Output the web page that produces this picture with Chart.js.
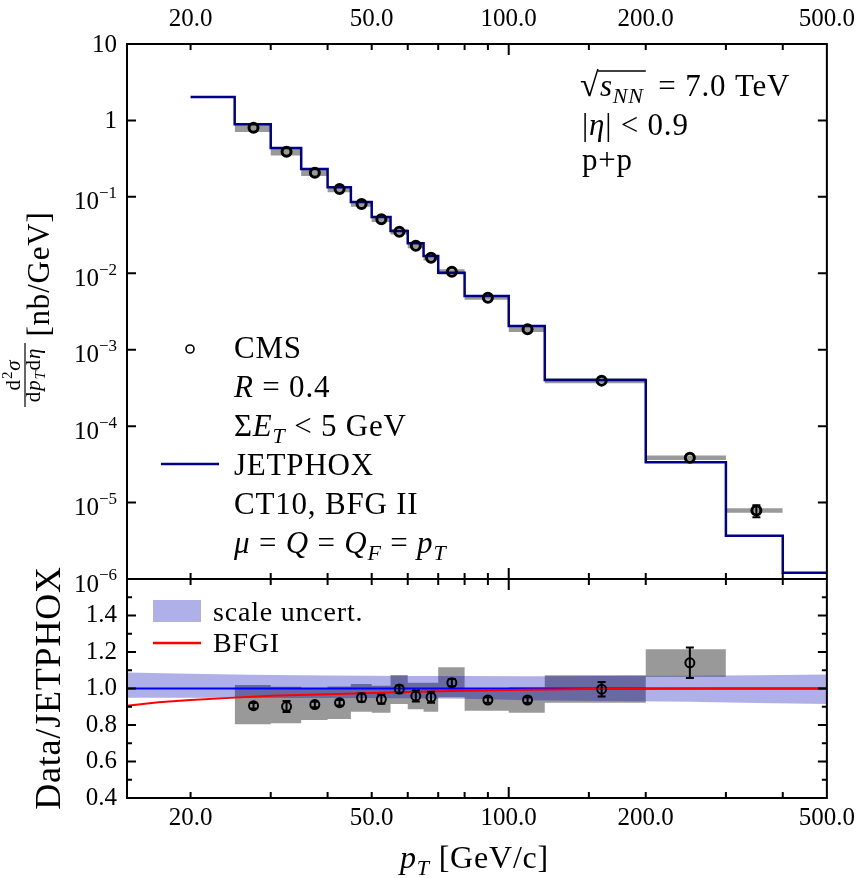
<!DOCTYPE html>
<html>
<head>
<meta charset="utf-8">
<script src="https://cdn.jsdelivr.net/npm/chart.js@4.4.1/dist/chart.umd.min.js"></script>
<style>
  html, body { margin: 0; padding: 0; background: #fff; }
  #wrap { position: relative; width: 865px; height: 878px; }
</style>
</head>
<body>
<div id="wrap"><canvas id="c" width="865" height="878"></canvas></div>
<script>
// ── Data ────────────────────────────────────────────────────────────────────
// JETPHOX histogram (bin edges + value per bin)
const jetEdges = [20, 25, 30, 35, 40, 45, 50, 55, 60, 65, 70, 80, 100, 120, 200, 300, 400, 500];
const jetVals  = [2.02, 0.89, 0.435, 0.231, 0.134, 0.0855, 0.0545, 0.0357, 0.0247, 0.0168, 0.0102,
                  0.00505, 0.00204, 0.000402, 3.37e-5, 3.69e-6, 1.21e-6];

// CMS data (bins 25..400)
const cmsEdges = [25, 30, 35, 40, 45, 50, 55, 60, 65, 70, 80, 100, 120, 200, 300, 400];
const cmsX     = [27.5, 32.5, 37.5, 42.5, 47.5, 52.5, 57.5, 62.5, 67.5, 75, 90, 110, 160, 250, 350];
const cmsY     = [0.80, 0.39, 0.207, 0.127, 0.0807, 0.0508, 0.035, 0.023, 0.016, 0.0105, 0.0048,
                  0.00185, 0.000394, 3.86e-5, 7.85e-6];
const cmsErr   = [0.01, 0.01, 0.003, 0.002, 0.0015, 0.001, 0.0007, 0.0006, 0.0004, 0.0002, 0.00007,
                  0.00003, 0.000016, 2.8e-6, 1.4e-6];
const cmsSysLo = [0.706, 0.347, 0.188, 0.115, 0.0742, 0.0468, 0.0322, 0.0213, 0.0147, 0.00967, 0.0045,
                  0.00171, 0.000364, 3.6e-5, 7.38e-6];
const cmsSysHi = [0.894, 0.433, 0.226, 0.139, 0.0872, 0.0548, 0.0378, 0.0247, 0.0173, 0.01133, 0.0051,
                  0.00199, 0.000424, 4.12e-5, 8.41e-6];

// Ratio panel (Data/JETPHOX), bins 25..300
const ratioEdges = [25, 30, 35, 40, 45, 50, 55, 60, 65, 70, 80, 100, 120, 200, 300];
const ratioX     = [27.5, 32.5, 37.5, 42.5, 47.5, 52.5, 57.5, 62.5, 67.5, 75, 90, 110, 160, 250];
const ratioY     = [0.906, 0.901, 0.912, 0.922, 0.950, 0.941, 0.997, 0.959, 0.952, 1.032, 0.937, 0.937, 0.996, 1.141];
const ratioErr   = [0.015, 0.03, 0.015, 0.015, 0.022, 0.025, 0.02, 0.03, 0.03, 0.02, 0.015, 0.015, 0.04, 0.083];
const ratioSysLo = [0.804, 0.809, 0.827, 0.833, 0.873, 0.867, 0.915, 0.886, 0.873, 0.952, 0.878, 0.867, 0.922, 1.065];
const ratioSysHi = [1.019, 1.010, 0.997, 1.011, 1.025, 1.015, 1.074, 1.032, 1.031, 1.116, 0.996, 1.007, 1.072, 1.215];

// scale uncertainty band
const bandX  = [14.5, 20, 27, 40, 60, 80, 110, 160, 250, 350, 500];
const bandLo = [0.950, 0.949, 0.948, 0.948, 0.947, 0.944, 0.935, 0.932, 0.927, 0.921, 0.915];
const bandHi = [1.087, 1.081, 1.076, 1.071, 1.069, 1.068, 1.067, 1.068, 1.070, 1.073, 1.077];

// BFGI / JETPHOX ratio
const bfgX = [14.5, 17, 20, 25, 30, 40, 50, 57, 75, 100, 150, 200, 300, 500];
const bfgY = [0.905, 0.925, 0.937, 0.950, 0.960, 0.969, 0.975, 0.979, 0.986, 0.992, 0.997, 0.999, 1.0, 1.0];

const unityX = [14.5, 500];
const unityY = [1.0, 1.0];

const xTickLabels = [20, 50, 100, 200, 500];
const X_MIN = 14.5, X_MAX = 500;

// ── Helpers ─────────────────────────────────────────────────────────────────
const SERIF = '"Liberation Serif", "DejaVu Serif", serif';
const font = (sz, it) => (it ? 'italic ' : '') + sz + 'px ' + SERIF;
const EQ = ' = ';

function steps(edges, vals) {
    const pts = vals.map((v, i) => ({ x: edges[i], y: v }));
    pts.push({ x: edges[edges.length - 1], y: vals[vals.length - 1] });
    return pts;
}
const pairs = (xs, ys) => xs.map((x, i) => ({ x, y: ys[i] }));

// draw text made of parts: r roman, i italic, sb italic subscript, sp superscript
function rich(ctx, x, y, parts, size, dry) {
    for (const [t, s] of parts) {
        let sz = size, dy = 0, it = s === 'i';
        if (s === 'sb') { sz = Math.round(size * 0.7); dy = size * 0.22; it = true; }
        if (s === 'sp') { sz = Math.round(size * 0.7); dy = -size * 0.4; }
        ctx.font = font(sz, it);
        if (!dry) ctx.fillText(t, x, y + dy);
        x += ctx.measureText(t).width;
    }
    return x;
}

const isDecade = v => Math.abs(Math.log10(v) - Math.round(Math.log10(v))) < 1e-6;

// ── Decorations: frame, ticks, labels, legends ──────────────────────────────
const decor = {
    id: 'decor',
    afterDatasetsDraw(chart) {
        const ctx = chart.ctx, xs = chart.scales.x;
        ctx.save();
        ctx.strokeStyle = '#000';
        ctx.lineWidth = 2;
        const bars = (ys, X, Y, E, always) => {
            X.forEach((xv, i) => {
                const px = xs.getPixelForValue(xv);
                const y0 = ys.getPixelForValue(Y[i] - E[i]);
                const y1 = ys.getPixelForValue(Y[i] + E[i]);
                if (!always && Math.abs(y0 - y1) < 10) return;
                ctx.beginPath();
                ctx.moveTo(px, y0); ctx.lineTo(px, y1);
                ctx.moveTo(px - 4, y0); ctx.lineTo(px + 4, y0);
                ctx.moveTo(px - 4, y1); ctx.lineTo(px + 4, y1);
                ctx.stroke();
            });
        };
        bars(chart.scales.y, cmsX, cmsY, cmsErr, false);
        bars(chart.scales.yr, ratioX, ratioY, ratioErr, true);
        ctx.restore();
    },
    afterDraw(chart) {
        const ctx = chart.ctx;
        const { x, y, yr } = chart.scales;
        const L = chart.chartArea.left, R = chart.chartArea.right;
        const T = y.top, M = y.bottom, B = yr.bottom;
        ctx.save();
        ctx.strokeStyle = '#000';
        ctx.fillStyle = '#000';
        ctx.lineWidth = 2;
        ctx.strokeRect(L, T, R - L, B - T);
        ctx.beginPath(); ctx.moveTo(L, M); ctx.lineTo(R, M); ctx.stroke();

        // x ticks
        ctx.beginPath();
        x.ticks.forEach(t => {
            const px = x.getPixelForValue(t.value);
            if (px < L + 2 || px > R - 2) return;
            const len = isDecade(t.value) ? 11 : 6;
            ctx.moveTo(px, T); ctx.lineTo(px, T + len);
            ctx.moveTo(px, M - len); ctx.lineTo(px, M + len);
            ctx.moveTo(px, B); ctx.lineTo(px, B - len);
        });
        // y ticks (decades)
        y.ticks.forEach(t => {
            if (!isDecade(t.value)) return;
            const py = y.getPixelForValue(t.value);
            if (py < T + 2 || py > M - 2) return;
            ctx.moveTo(L, py); ctx.lineTo(L + 9, py);
            ctx.moveTo(R, py); ctx.lineTo(R - 9, py);
        });
        // ratio ticks
        yr.ticks.forEach(t => {
            const py = yr.getPixelForValue(t.value);
            if (py < M + 2 || py > B - 2) return;
            const len = Math.round(t.value * 10) % 2 === 0 ? 9 : 5;
            ctx.moveTo(L, py); ctx.lineTo(L + len, py);
            ctx.moveTo(R, py); ctx.lineTo(R - len, py);
        });
        ctx.stroke();

        // log y labels
        ctx.textBaseline = 'middle';
        y.ticks.forEach(t => {
            if (!isDecade(t.value)) return;
            const e = Math.round(Math.log10(t.value));
            const py = y.getPixelForValue(t.value);
            ctx.textAlign = 'right';
            if (e >= 0) {
                ctx.font = font(25);
                ctx.fillText(e === 0 ? '1' : '10', 117, py + 1);
            } else {
                const ex = String(e).replace('-', '\u2212');
                ctx.font = font(17);
                const sw = ctx.measureText(ex).width;
                ctx.fillText(ex, 117, py - 3);
                ctx.font = font(25);
                ctx.fillText('10', 117 - sw, py + 6);
            }
        });

        ctx.textAlign = 'left';
        ctx.textBaseline = 'alphabetic';
        ctx.letterSpacing = '0.8px';

        // top-right annotation
        const AS = 31;
        rich(ctx, 580, 96, [['\u221A', 'r']], 34);
        const se = rich(ctx, 600, 96, [['s', 'i'], ['NN', 'sb']], AS);
        ctx.beginPath(); ctx.lineWidth = 1.5; ctx.moveTo(598, 71); ctx.lineTo(se + 2, 71); ctx.stroke();
        rich(ctx, se + 6, 96, [[' = 7.0 TeV', 'r']], AS);
        rich(ctx, 582, 135, [['|', 'r'], ['\u03B7', 'i'], ['| < 0.9', 'r']], AS);
        rich(ctx, 582, 170, [['p+p', 'r']], AS);

        // top legend
        const LX = 234, LS = 31;
        ctx.beginPath(); ctx.lineWidth = 1.6;
        ctx.arc(190, 349, 4, 0, Math.PI * 2); ctx.stroke();
        rich(ctx, LX, 358, [['CMS', 'r']], LS);
        rich(ctx, LX, 397, [['R', 'i'], [EQ + '0.4', 'r']], LS);
        rich(ctx, LX, 436, [['\u03A3', 'r'], ['E', 'i'], ['T', 'sb'], [' < 5 GeV', 'r']], LS);
        ctx.beginPath(); ctx.lineWidth = 2.5; ctx.strokeStyle = '#00008b';
        ctx.moveTo(161, 464); ctx.lineTo(219, 464); ctx.stroke();
        rich(ctx, LX, 475, [['JETPHOX', 'r']], LS);
        rich(ctx, LX, 514, [['CT10, BFG II', 'r']], LS);
        rich(ctx, LX, 553, [['\u03BC', 'i'], [EQ, 'r'], ['Q', 'i'], [EQ, 'r'], ['Q', 'i'], ['F', 'sb'],
                            [EQ, 'r'], ['p', 'i'], ['T', 'sb']], LS);

        // bottom legend
        ctx.fillStyle = 'rgba(0,0,182,0.31)';
        ctx.fillRect(153, 600, 48, 22);
        ctx.fillStyle = '#000';
        rich(ctx, 213, 621, [['scale uncert.', 'r']], 28);
        ctx.beginPath(); ctx.lineWidth = 2.5; ctx.strokeStyle = '#ff0000';
        ctx.moveTo(153, 643); ctx.lineTo(201, 643); ctx.stroke();
        rich(ctx, 213, 652, [['BFGI', 'r']], 28);

        // x title
        ctx.strokeStyle = '#000';
        rich(ctx, 400, 868, [['p', 'i'], ['T', 'sb'], [' [GeV/c]', 'r']], 32);

        // y title (ratio)
        ctx.save();
        ctx.translate(60, 688);
        ctx.rotate(-Math.PI / 2);
        ctx.font = font(36);
        ctx.textAlign = 'center';
        ctx.fillText('Data/JETPHOX', 0, 0);
        ctx.restore();

        // y title (spectrum)
        ctx.save();
        ctx.translate(49, 274);
        ctx.rotate(-Math.PI / 2);
        ctx.font = font(31);
        ctx.textAlign = 'center';
        ctx.fillText('[nb/GeV]', 0, 0);
        ctx.restore();

        ctx.save();
        ctx.translate(25, 375);
        ctx.rotate(-Math.PI / 2);
        ctx.lineWidth = 1.2;
        ctx.beginPath(); ctx.moveTo(-32, 0); ctx.lineTo(32, 0); ctx.stroke();
        const num = [['d', 'r'], ['2', 'sp'], ['\u03C3', 'i']];
        const den = [['d', 'r'], ['p', 'i'], ['T', 'sb'], ['d', 'r'], ['\u03B7', 'i']];
        const nw = rich(ctx, 0, 0, num, 21, true);
        rich(ctx, -nw / 2, -5, num, 21);
        const dw = rich(ctx, 0, 0, den, 21, true);
        rich(ctx, -dw / 2, 15, den, 21);
        ctx.restore();

        ctx.restore();
    }
};

// ── Chart ───────────────────────────────────────────────────────────────────
const GRAY = '#999999';
const NONE = 'rgba(0,0,0,0)';
const lineBase = { pointRadius: 0, borderColor: NONE, fill: false, xAxisID: 'x' };

const xLabel = v => xTickLabels.some(l => Math.abs(l - v) < 1e-6) ? Number(v).toFixed(1) : '';

new Chart(document.getElementById('c'), {
    type: 'line',
    data: {
        datasets: [
            { ...lineBase, data: steps(cmsEdges, cmsSysLo), stepped: true, yAxisID: 'y', order: 5 },
            { ...lineBase, data: steps(cmsEdges, cmsSysHi), stepped: true, yAxisID: 'y', order: 5,
              fill: '-1', backgroundColor: GRAY },
            { ...lineBase, data: steps(jetEdges, jetVals), stepped: true, yAxisID: 'y', order: 1,
              borderColor: '#00008b', borderWidth: 2.5 },
            { ...lineBase, data: pairs(cmsX, cmsY), showLine: false, yAxisID: 'y', order: 0,
              pointRadius: 4.5, pointBorderWidth: 3, pointBorderColor: '#000', pointBackgroundColor: NONE },

            { ...lineBase, data: steps(ratioEdges, ratioSysLo), stepped: true, yAxisID: 'yr', order: 5 },
            { ...lineBase, data: steps(ratioEdges, ratioSysHi), stepped: true, yAxisID: 'yr', order: 5,
              fill: '-1', backgroundColor: GRAY },
            { ...lineBase, data: pairs(bandX, bandLo), yAxisID: 'yr', order: 3 },
            { ...lineBase, data: pairs(bandX, bandHi), yAxisID: 'yr', order: 3,
              fill: '-1', backgroundColor: 'rgba(0,0,182,0.31)' },
            { ...lineBase, data: pairs(unityX, unityY), yAxisID: 'yr', order: 2,
              borderColor: '#0000ff', borderWidth: 2 },
            { ...lineBase, data: pairs(bfgX, bfgY), yAxisID: 'yr', order: 1,
              borderColor: '#ff0000', borderWidth: 2 },
            { ...lineBase, data: pairs(ratioX, ratioY), showLine: false, yAxisID: 'yr', order: 0,
              pointRadius: 4.5, pointBorderWidth: 2, pointBorderColor: '#000', pointBackgroundColor: NONE }
        ]
    },
    options: {
        responsive: false,
        animation: false,
        devicePixelRatio: 1,
        layout: { padding: { left: 0, right: 32, top: 0, bottom: 0 } },
        plugins: { legend: { display: false }, tooltip: { enabled: false } },
        scales: {
            x: {
                type: 'logarithmic', position: 'bottom', min: X_MIN, max: X_MAX,
                grid: { display: false, drawTicks: false }, border: { display: false },
                ticks: { autoSkip: false, maxRotation: 0, padding: 5, color: '#000',
                         font: { family: SERIF, size: 25 }, callback: xLabel },
                afterFit: s => { s.height = 80; }
            },
            x2: {
                type: 'logarithmic', position: 'top', min: X_MIN, max: X_MAX,
                grid: { display: false, drawTicks: false }, border: { display: false },
                ticks: { autoSkip: false, maxRotation: 0, padding: 10, color: '#000',
                         font: { family: SERIF, size: 25 }, callback: xLabel },
                afterFit: s => { s.height = 44; }
            },
            y: {
                type: 'logarithmic', position: 'left', stack: 'panels', stackWeight: 535, weight: 2,
                min: 1e-6, max: 10,
                grid: { display: false, drawTicks: false }, border: { display: false },
                ticks: { autoSkip: false, callback: () => '' },
                afterFit: s => { s.width = 127; }
            },
            yr: {
                type: 'linear', position: 'left', stack: 'panels', stackWeight: 219, weight: 1,
                min: 0.4, max: 1.6,
                grid: { display: false, drawTicks: false }, border: { display: false },
                ticks: { autoSkip: false, stepSize: 0.1, padding: 10, color: '#000',
                         font: { family: SERIF, size: 25 },
                         callback: v => {
                             const k = Math.round(v * 10);
                             return (k % 2 === 0 && k >= 4 && k <= 14) ? (k / 10).toFixed(1) : '';
                         } },
                afterFit: s => { s.width = 127; }
            }
        }
    },
    plugins: [decor]
});
</script>
</body>
</html>
